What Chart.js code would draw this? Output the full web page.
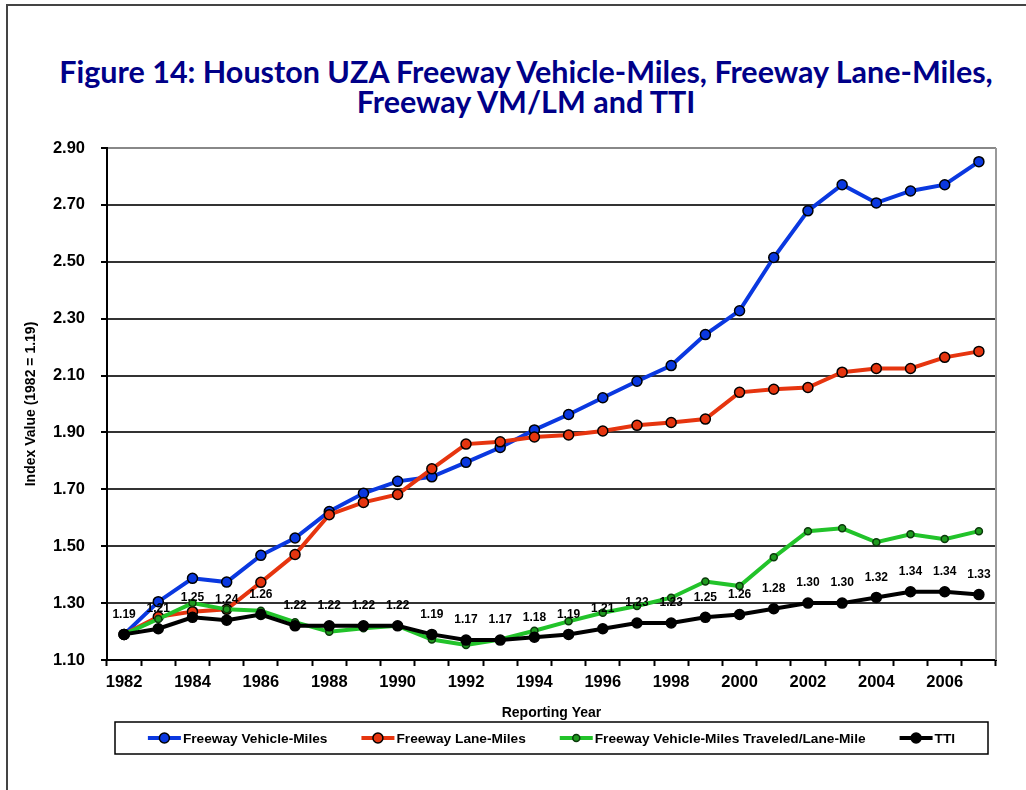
<!DOCTYPE html>
<html>
<head>
<meta charset="utf-8">
<script src="https://cdn.jsdelivr.net/npm/chart.js@4.4.0/dist/chart.umd.min.js"></script>
<style>
  html, body { margin: 0; padding: 0; background: #fff; }
  #wrap { position: relative; width: 1026px; height: 790px; overflow: hidden; }
  #frame { position: absolute; left: 6px; top: 4px; width: 1100px; height: 900px;
           border-left: 2px solid #444; border-top: 2px solid #444; }
  #title { position: absolute; left: 26px; width: 1000px; top: 57px; text-align: center;
           font: bold 30.5px Lato, 'Noto Sans', sans-serif; line-height: 29.5px; color: #000088; }
  canvas { position: absolute; left: 0; top: 0; }
</style>
</head>
<body>
<div id="wrap">
  <div id="frame"></div>
  <div id="title">Figure 14: Houston UZA Freeway Vehicle-Miles, Freeway Lane-Miles,<br>Freeway VM/LM and TTI</div>
  <canvas id="chart" width="1026" height="790"></canvas>
</div>
<script>
// 데이터
const years = ['1982', '1983', '1984', '1985', '1986', '1987', '1988', '1989', '1990',
  '1991', '1992', '1993', '1994', '1995', '1996', '1997', '1998', '1999', '2000',
  '2001', '2002', '2003', '2004', '2005', '2006', '2007'];

const vehicleMiles = [1.19, 1.305, 1.387, 1.374, 1.468, 1.529, 1.622, 1.686, 1.728,
  1.744, 1.795, 1.847, 1.909, 1.963, 2.022, 2.080, 2.135, 2.244, 2.328,
  2.515, 2.679, 2.771, 2.707, 2.749, 2.771, 2.852];

const laneMiles = [1.19, 1.252, 1.270, 1.278, 1.373, 1.471, 1.611, 1.654, 1.682,
  1.772, 1.859, 1.867, 1.884, 1.891, 1.905, 1.925, 1.935, 1.947, 2.041,
  2.052, 2.058, 2.112, 2.125, 2.125, 2.164, 2.185];

const vmPerLaneMile = [1.19, 1.244, 1.300, 1.278, 1.273, 1.233, 1.199, 1.212, 1.220,
  1.172, 1.153, 1.172, 1.203, 1.236, 1.266, 1.290, 1.319, 1.376, 1.360,
  1.461, 1.553, 1.563, 1.514, 1.542, 1.525, 1.553];

const tti = [1.19, 1.21, 1.25, 1.24, 1.26, 1.22, 1.22, 1.22, 1.22,
  1.19, 1.17, 1.17, 1.18, 1.19, 1.21, 1.23, 1.23, 1.25, 1.26,
  1.28, 1.30, 1.30, 1.32, 1.34, 1.34, 1.33];

const yTicks = [1.10, 1.30, 1.50, 1.70, 1.90, 2.10, 2.30, 2.50, 2.70, 2.90];

const BLUE  = '#0a38e0';
const RED   = '#e6350f';
const GREEN = '#22c32a';
const BLACK = '#000000';
const FONT  = "'Liberation Sans', Arial, sans-serif";

// TTI 값 라벨
const ttiLabels = {
  id: 'ttiLabels',
  afterDatasetsDraw(chart) {
    const meta = chart.getDatasetMeta(3);
    const ctx = chart.ctx;
    ctx.save();
    ctx.font = `bold 12px ${FONT}`;
    ctx.fillStyle = '#000';
    ctx.textAlign = 'center';
    ctx.textBaseline = 'middle';
    meta.data.forEach((pt, i) => {
      ctx.fillText(tti[i].toFixed(2), pt.x, pt.y - 20);
    });
    ctx.restore();
  },
};

// 오른쪽 테두리 + 범례 상자
const frameAndLegend = {
  id: 'frameAndLegend',
  afterDraw(chart) {
    const { ctx, chartArea: a } = chart;
    ctx.save();
    ctx.strokeStyle = '#999';
    ctx.lineWidth = 2;
    ctx.beginPath();
    ctx.moveTo(a.right, a.top);
    ctx.lineTo(a.right, a.bottom);
    ctx.stroke();

    const boxL = a.left + 8, boxR = a.right - 8;
    const boxT = a.bottom + 62, boxB = a.bottom + 94;
    ctx.strokeStyle = '#000';
    ctx.lineWidth = 1.5;
    ctx.strokeRect(boxL, boxT, boxR - boxL, boxB - boxT);

    ctx.font = `bold 13.7px ${FONT}`;
    const symW = 33, textGap = 2, itemGap = 34;
    const items = chart.data.datasets.map((ds) => ({
      ds, w: symW + textGap + ctx.measureText(ds.label).width,
    }));
    const total = items.reduce((s, it) => s + it.w, 0) + itemGap * (items.length - 1);
    let x = (boxL + boxR) / 2 - total / 2;
    const cy = (boxT + boxB) / 2;
    ctx.textBaseline = 'middle';
    ctx.textAlign = 'left';
    items.forEach(({ ds, w }) => {
      ctx.strokeStyle = ds.borderColor;
      ctx.lineWidth = 4;
      ctx.beginPath();
      ctx.moveTo(x, cy);
      ctx.lineTo(x + symW, cy);
      ctx.stroke();
      ctx.beginPath();
      ctx.arc(x + symW / 2, cy, ds.pointRadius, 0, Math.PI * 2);
      ctx.fillStyle = ds.pointBackgroundColor;
      ctx.fill();
      ctx.lineWidth = ds.pointBorderWidth;
      ctx.strokeStyle = ds.pointBorderColor;
      ctx.stroke();
      ctx.fillStyle = '#000';
      ctx.fillText(ds.label, x + symW + textGap, cy + 1);
      x += w + itemGap;
    });
    ctx.restore();
  },
};

function series(label, data, color, radius, order, pointFill, pointEdge) {
  return {
    label,
    data,
    borderColor: color,
    backgroundColor: color,
    borderWidth: 4,
    pointRadius: radius,
    pointHoverRadius: radius,
    pointBackgroundColor: pointFill || color,
    pointBorderColor: pointEdge || '#000',
    pointBorderWidth: 1.5,
    tension: 0,
    order,
  };
}

new Chart(document.getElementById('chart'), {
  type: 'line',
  data: {
    labels: years,
    datasets: [
      series('Freeway Vehicle-Miles', vehicleMiles, BLUE, 5, 4),
      series('Freeway Lane-Miles', laneMiles, RED, 5, 3),
      series('Freeway Vehicle-Miles Traveled/Lane-Mile', vmPerLaneMile, GREEN, 3.5, 2, '#1f9a1f', '#0b3a0b'),
      series('TTI', tti, BLACK, 5, 1),
    ],
  },
  options: {
    responsive: false,
    animation: false,
    layout: { padding: { left: 20, right: 30, top: 148, bottom: 60 } },
    plugins: {
      legend: { display: false },
      tooltip: { enabled: false },
    },
    scales: {
      x: {
        offset: true,
        grid: { offset: true, drawOnChartArea: false, drawTicks: true, tickLength: 6,
                tickColor: '#000', tickWidth: 2 },
        border: { color: '#000', width: 2 },
        ticks: {
          autoSkip: false,
          maxRotation: 0,
          padding: 7,
          color: '#000',
          font: { family: FONT, size: 16.5, weight: 'bold' },
          callback: (v, i) => (i % 2 === 0 ? years[i] : ''),
        },
        title: {
          display: true,
          text: 'Reporting Year',
          color: '#000',
          font: { family: FONT, size: 14, weight: 'bold' },
          padding: { top: 0, bottom: 8 },
        },
        afterFit: (s) => { s.height = 70; },
      },
      y: {
        min: yTicks[0],
        max: yTicks[yTicks.length - 1],
        afterBuildTicks: (s) => { s.ticks = yTicks.map((v) => ({ value: v })); },
        grid: {
          color: (c) => (c.tick && c.tick.value > 2.89 ? '#888' : '#333'),
          lineWidth: 2,
          drawTicks: true,
          tickLength: 6,
          tickColor: '#000',
        },
        border: { color: '#000', width: 2 },
        ticks: {
          padding: 16,
          color: '#000',
          font: { family: FONT, size: 16.5, weight: 'bold' },
          callback: (v) => Number(v).toFixed(2),
        },
        title: {
          display: true,
          text: 'Index Value (1982 = 1.19)',
          color: '#000',
          font: { family: FONT, size: 14, weight: 'bold' },
          padding: { top: 3, bottom: 4 },
        },
        afterFit: (s) => { s.width = 87; },
      },
    },
  },
  plugins: [ttiLabels, frameAndLegend],
});
</script>
</body>
</html>
